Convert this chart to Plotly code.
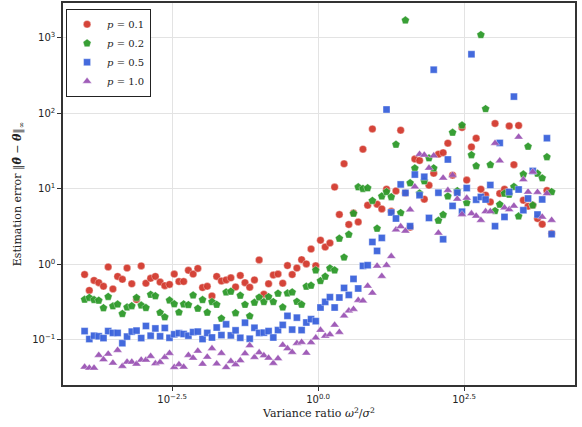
import numpy as np
import plotly.graph_objects as go

# Variance ratio: 100 log-spaced points from 1e-4 to 1e4
variance_ratio = np.logspace(-4, 4, 100)

err_p01 = [0.73, 0.45, 0.61, 0.57, 0.51, 0.92, 0.47, 0.69, 0.63, 0.89,
           0.55, 0.34, 0.95, 0.56, 0.65, 0.69, 0.58, 0.52, 0.54, 0.74,
           0.59, 0.59, 0.83, 0.74, 0.88, 0.49, 0.51, 0.38, 0.69, 0.60,
           0.62, 0.66, 0.50, 0.71, 0.57, 0.495, 0.62, 1.14, 0.40, 0.55,
           0.72, 0.74, 0.56, 0.96, 0.73, 0.89, 1.15, 1.01, 1.59, 0.955,
           2.08, 1.69, 1.91, 10.5, 4.55, 21.4, 3.36, 4.78, 3.63, 33.4,
           6.04, 61.9, 6.23, 5.40, 9.85, 5.03, 9.35, 59.5, 8.80, 3.09,
           24.8, 23.6, 7.26, 11.1, 16.0, 28.6, 30.0, 40.1, 15.1, 9.0,
           64.7, 13.0, 35.8, 46.7, 9.85, 8.2, 6.68, 73.1, 8.64, 9.85,
           67.9, 20.8, 68.7, 7.04, 5.86, 6.04, 4.03, 3.39, 9.46, 2.55]

err_p02 = [0.341, 0.360, 0.337, 0.331, 0.263, 0.371, 0.278, 0.294, 0.220, 0.269,
           0.280, 0.360, 0.285, 0.264, 0.395, 0.379, 0.228, 0.199, 0.332, 0.297,
           0.230, 0.295, 0.289, 0.388, 0.259, 0.337, 0.229, 0.317, 0.291, 0.191,
           0.426, 0.435, 0.226, 0.385, 0.291, 0.205, 0.311, 0.363, 0.317, 0.369,
           0.317, 0.410, 0.269, 0.413, 0.426, 0.319, 0.292, 0.507, 0.522, 0.833,
           0.601, 0.687, 0.885, 0.833, 2.19, 1.23, 2.47, 4.69, 10.5, 10.0,
           10.2, 6.93, 2.97, 7.96, 9.07, 7.78, 38.5, 4.78, 1700, 11.9,
           18.7, 8.71, 12.6, 25.4, 18.7, 3.79, 4.52, 7.96, 55.5, 9.35,
           69.3, 6.49, 28.0, 20.0, 1090, 114, 20.7, 5.08, 6.19, 8.64,
           8.38, 10.6, 4.32, 15.5, 36.2, 6.04, 15.9, 13.8, 26.3, 9.07]

err_p05 = [0.130, 0.102, 0.113, 0.111, 0.105, 0.130, 0.123, 0.123, 0.0899, 0.110,
           0.128, 0.132, 0.105, 0.152, 0.113, 0.141, 0.111, 0.143, 0.106, 0.118,
           0.122, 0.119, 0.113, 0.126, 0.128, 0.102, 0.123, 0.107, 0.145, 0.115,
           0.160, 0.114, 0.133, 0.106, 0.168, 0.103, 0.144, 0.123, 0.124, 0.130,
           0.107, 0.134, 0.157, 0.207, 0.136, 0.196, 0.134, 0.169, 0.187, 0.176,
           0.267, 0.317, 0.366, 0.267, 0.362, 0.485, 0.392, 0.639, 0.477, 0.950,
           0.970, 1.97, 1.50, 2.23, 112, 4.84, 4.03, 11.4, 8.80, 3.19,
           15.4, 8.20, 14.4, 4.10, 377, 8.85, 2.14, 24.4, 5.92, 8.85,
           4.96, 10.2, 604, 7.15, 7.78, 7.19, 11.2, 3.19, 40.4, 4.23,
           9.07, 166, 9.76, 5.19, 7.42, 17.2, 4.55, 7.21, 46.7, 2.50]

err_p10 = [0.0436, 0.0423, 0.0423, 0.0624, 0.0547, 0.0649, 0.0493, 0.0726, 0.0446, 0.0508,
           0.0508, 0.0478, 0.0540, 0.0540, 0.0604, 0.0484, 0.0504, 0.0586, 0.0662, 0.0432,
           0.0470, 0.0436, 0.0624, 0.0573, 0.0711, 0.0476, 0.0592, 0.0767, 0.0481, 0.0662,
           0.0430, 0.0519, 0.0470, 0.0531, 0.0656, 0.0838, 0.0586, 0.0676, 0.0618, 0.0574,
           0.0489, 0.0564, 0.0851, 0.0764, 0.0683, 0.0899, 0.0927, 0.0668, 0.0921, 0.106,
           0.134, 0.112, 0.117, 0.157, 0.126, 0.207, 0.241, 0.254, 0.334, 0.327,
           0.516, 0.417, 0.950, 0.694, 0.970, 1.27, 2.86, 3.16, 2.76, 5.27,
           10.6, 28.6, 28.0, 18.8, 27.4, 2.60, 13.9, 9.55, 15.1, 7.31,
           4.57, 7.53, 4.69, 4.36, 3.83, 4.99, 5.00, 40.1, 23.5, 5.60,
           5.30, 5.92, 48.5, 13.2, 9.07, 16.7, 9.0, 4.23, 8.64, 3.83]

series_names = ["<i>p</i> = 0.1", "<i>p</i> = 0.2", "<i>p</i> = 0.5", "<i>p</i> = 1.0"]
series_values = [err_p01, err_p02, err_p05, err_p10]
colors = ["#d33b2f", "#2e9a2b", "#3b63dc", "#9b55b5"]
symbols = ["circle", "pentagon", "square", "triangle-up"]
sizes = [7.5, 8.5, 7, 8]

x_tickvals = [10 ** -2.5, 1.0, 10 ** 2.5]
x_ticktext = ["10<sup>\u22122.5</sup>", "10<sup>0.0</sup>", "10<sup>2.5</sup>"]
y_tickvals = [0.1, 1, 10, 100, 1000]
y_ticktext = ["10<sup>\u22121</sup>", "10<sup>0</sup>", "10<sup>1</sup>", "10<sup>2</sup>", "10<sup>3</sup>"]

fig = go.Figure()
for name, vals, c, s, sz in zip(series_names, series_values, colors, symbols, sizes):
    fig.add_trace(go.Scatter(
        x=variance_ratio, y=vals, mode="markers", name=name,
        marker=dict(color=c, symbol=s, size=sz, opacity=0.95,
                    line=dict(width=0.6, color="rgba(255,255,255,0.6)")),
    ))

axis_common = dict(
    type="log", showline=True, mirror=True, linecolor="#333333", linewidth=1.5,
    showgrid=True, gridcolor="#e3e3e3", gridwidth=1, automargin=False,
    ticks="outside", ticklen=4, tickcolor="#333333", zeroline=False,
    tickfont=dict(family="DejaVu Sans, sans-serif", size=10, color="#222222"),
)

fig.update_xaxes(
    **axis_common, range=[-4.37, 4.40],
    tickvals=x_tickvals, ticktext=x_ticktext,
    title=dict(text="Variance ratio <i>\u03c9</i><sup>2</sup>/<i>\u03c3</i><sup>2</sup>",
               font=dict(family="DejaVu Serif, serif", size=11, color="#222222"), standoff=6),
)
fig.update_yaxes(
    **axis_common, range=[-1.6, 3.46],
    tickvals=y_tickvals, ticktext=y_ticktext,
    title=dict(text="Estimation error \u2016<b><i>\u03b8\u0302</i></b> \u2212 <b><i>\u03b8</i></b>\u2016<sub>\u221e</sub>",
               font=dict(family="DejaVu Serif, serif", size=11, color="#222222"), standoff=8),
)

fig.update_layout(
    width=582, height=427,
    margin=dict(l=63, r=7, t=3, b=42),
    paper_bgcolor="white", plot_bgcolor="white",
    showlegend=True,
    legend=dict(x=0.006, y=0.985, xanchor="left", yanchor="top",
                bgcolor="white", bordercolor="#222222", borderwidth=1,
                font=dict(family="DejaVu Serif, serif", size=10, color="#222222"),
                itemwidth=30, tracegroupgap=0),
)

fig.write_html(
    "out.html",
    config={"displayModeBar": False},
    post_script="document.body.style.margin='0';document.body.style.padding='0';",
)
